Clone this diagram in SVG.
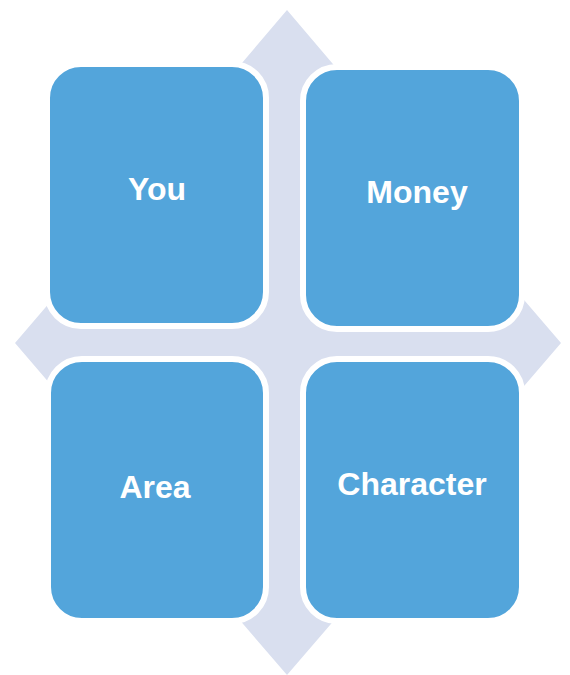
<svg xmlns="http://www.w3.org/2000/svg" width="570" height="675" viewBox="0 0 570 675">
  <style>
    .box { fill: #53A5DB; stroke: #FFFFFF; stroke-width: 6; }
    .lbl { fill: #FFFFFF; font-family: "Liberation Sans", Arial, sans-serif; font-weight: bold; font-size: 32px; text-anchor: middle; }
    .cross { fill: #D9DFEF; stroke: none; }
  </style>
  <rect width="570" height="675" fill="#FFFFFF"/>
  <g id="connectors">
    <path class="cross" d="M287,10 L355,90 L327,90 L327,303 L501,303 L501,273 L561,343 L501,413 L501,383 L327,383 L327,596 L355,596 L287,675 L219,596 L247,596 L247,383 L75,383 L75,413 L15,343 L75,273 L75,303 L247,303 L247,90 L219,90 Z"/>
  </g>
  <g id="node-you">
    <rect class="box" x="47" y="64" width="219" height="262" rx="34" ry="34"/>
    <text class="lbl" x="157" y="200">You</text>
  </g>
  <g id="node-money">
    <rect class="box" x="303" y="67" width="219" height="262" rx="34" ry="34"/>
    <text class="lbl" x="417" y="203">Money</text>
  </g>
  <g id="node-area">
    <rect class="box" x="48" y="359" width="218" height="262" rx="34" ry="34"/>
    <text class="lbl" x="155" y="498">Area</text>
  </g>
  <g id="node-character">
    <rect class="box" x="303" y="359" width="219" height="262" rx="34" ry="34"/>
    <text class="lbl" x="412" y="495">Character</text>
  </g>
</svg>
